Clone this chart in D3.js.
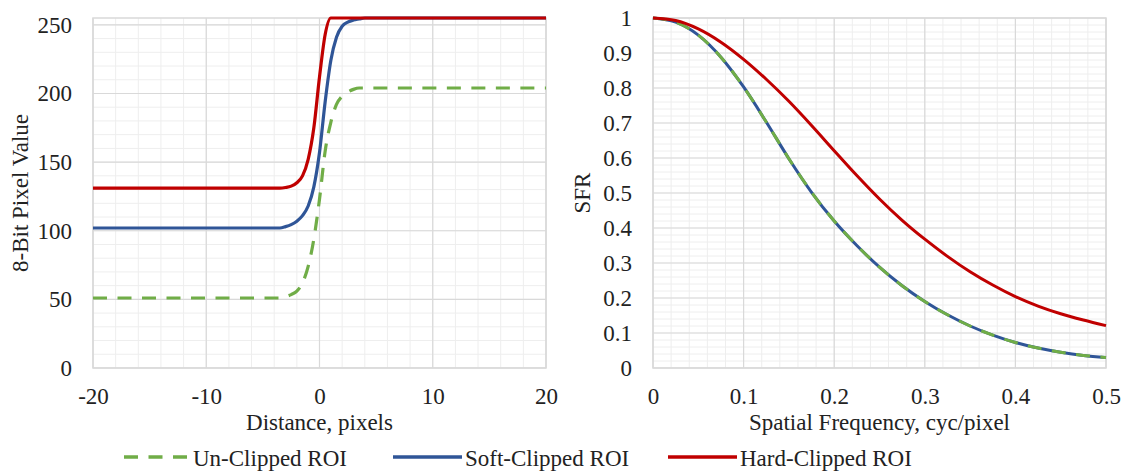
<html>
  <head>
    <script src="https://d3js.org/d3.v7.min.js"></script>
    <style>
      body { margin: 0; background: white; }
      text { font-family: "Liberation Serif", "Times New Roman", serif; fill: #222; }
    </style>
  </head>
  <body>
    <svg id="chart" width="1133" height="473"></svg>
    <script>
      // edge spread function (left panel)
      const esfDistance = [-20, -4, -3.5, -3, -2.5, -2, -1.5, -1, -0.5, 0, 0.5, 1, 1.5, 2, 2.5, 3, 3.5, 4, 5, 20];
      const esfUnclipped = [51, 51, 51, 52, 53.5, 56, 62, 74, 94, 123, 158, 179, 192, 198, 201, 203, 204, 204, 204, 204];
      const esfSoft = [102, 102, 102, 103, 104.5, 107, 111, 118, 132, 157, 194, 224, 241, 249, 252, 253.5, 254.3, 255, 255, 255];
      const esfHard = [131, 131, 131, 131.5, 132.5, 135, 140, 152, 175, 212, 243, 255, 255, 255, 255, 255, 255, 255, 255, 255];

      // spatial frequency response (right panel)
      const sfrFrequency = [0, 0.025, 0.05, 0.075, 0.1, 0.125, 0.15, 0.175, 0.2, 0.225, 0.25, 0.275, 0.3, 0.325, 0.35, 0.375, 0.4, 0.425, 0.45, 0.475, 0.5];
      const sfrUnclipped = [1, 0.988, 0.951, 0.888, 0.803, 0.703, 0.598, 0.502, 0.42, 0.35, 0.288, 0.235, 0.19, 0.152, 0.12, 0.094, 0.073, 0.057, 0.045, 0.036, 0.03];
      const sfrSoft = [1, 0.988, 0.951, 0.888, 0.803, 0.703, 0.598, 0.502, 0.42, 0.35, 0.288, 0.235, 0.19, 0.152, 0.12, 0.094, 0.073, 0.057, 0.045, 0.036, 0.03];
      const sfrHard = [1, 0.993, 0.969, 0.931, 0.882, 0.825, 0.762, 0.693, 0.621, 0.55, 0.483, 0.422, 0.368, 0.319, 0.275, 0.237, 0.204, 0.177, 0.155, 0.137, 0.121];

      const seriesNames = ["Un-Clipped ROI", "Soft-Clipped ROI", "Hard-Clipped ROI"];
      const seriesColors = ["#70ad47", "#2f5597", "#c00000"];

      const esfXTicks = [-20, -10, 0, 10, 20];
      const esfYTicks = [0, 50, 100, 150, 200, 250];
      const sfrXTicks = [0, 0.1, 0.2, 0.3, 0.4, 0.5];
      const sfrYTicks = [0, 0.1, 0.2, 0.3, 0.4, 0.5, 0.6, 0.7, 0.8, 0.9, 1];

      const svg = d3.select("#chart");
      const plotTop = 18, plotBottom = 368;
      const fontSize = 23;
      const dash = "14,10.5";

      const xl = d3.scaleLinear().domain([-20, 20]).range([93, 546]);
      const yl = d3.scaleLinear().domain([0, 255]).range([plotBottom, plotTop]);
      const xr = d3.scaleLinear().domain([0, 0.5]).range([653, 1106]);
      const yr = d3.scaleLinear().domain([0, 1]).range([plotBottom, plotTop]);

      function grid(x, y, minorX, minorY, majorX, majorY) {
        const g = svg.append("g");
        const [x0, x1] = x.range();
        const [y0, y1] = y.range();
        g.append("g").selectAll("line").data(minorX).join("line")
          .attr("x1", (d) => x(d)).attr("x2", (d) => x(d))
          .attr("y1", y0).attr("y2", y1)
          .attr("stroke", "#eeeeee").attr("stroke-width", 1);
        g.append("g").selectAll("line").data(minorY).join("line")
          .attr("x1", x0).attr("x2", x1)
          .attr("y1", (d) => y(d)).attr("y2", (d) => y(d))
          .attr("stroke", "#eeeeee").attr("stroke-width", 1);
        g.append("g").selectAll("line").data(majorX).join("line")
          .attr("x1", (d) => x(d)).attr("x2", (d) => x(d))
          .attr("y1", y0).attr("y2", y1)
          .attr("stroke", "#d9d9d9").attr("stroke-width", 1.2);
        g.append("g").selectAll("line").data(majorY).join("line")
          .attr("x1", x0).attr("x2", x1)
          .attr("y1", (d) => y(d)).attr("y2", (d) => y(d))
          .attr("stroke", "#d9d9d9").attr("stroke-width", 1.2);
        g.append("rect")
          .attr("x", x0).attr("y", y1)
          .attr("width", x1 - x0).attr("height", y0 - y1)
          .attr("fill", "none").attr("stroke", "#d9d9d9").attr("stroke-width", 1.5);
      }

      function axes(x, y, xt, yt) {
        const ax = svg.append("g")
          .attr("transform", "translate(0," + plotBottom + ")")
          .call(d3.axisBottom(x).tickValues(xt).tickSize(0).tickPadding(20).tickFormat((d) => String(d)));
        const ay = svg.append("g")
          .attr("transform", "translate(" + x.range()[0] + ",0)")
          .call(d3.axisLeft(y).tickValues(yt).tickSize(0).tickPadding(21).tickFormat((d) => String(d)));
        [ax, ay].forEach((a) => {
          a.select(".domain").remove();
          a.selectAll("text")
            .style("font-family", "Liberation Serif")
            .style("font-size", fontSize + "px")
            .attr("fill", "#222");
        });
      }

      function series(x, y, xs, ys, color, dashed, width) {
        const line = d3.line()
          .x((d, i) => x(xs[i]))
          .y((d) => y(d))
          .curve(d3.curveMonotoneX);
        svg.append("path")
          .datum(ys)
          .attr("d", line)
          .attr("fill", "none")
          .attr("stroke", color)
          .attr("stroke-width", width)
          .attr("stroke-dasharray", dashed ? dash : null);
      }

      // left panel: ESF
      grid(xl, yl, d3.range(-20, 20.01, 2), d3.range(0, 255, 10), esfXTicks, esfYTicks);
      axes(xl, yl, esfXTicks, esfYTicks);
      series(xl, yl, esfDistance, esfUnclipped, seriesColors[0], true, 3.2);
      series(xl, yl, esfDistance, esfSoft, seriesColors[1], false, 3.2);
      series(xl, yl, esfDistance, esfHard, seriesColors[2], false, 3.2);

      // right panel: SFR
      grid(xr, yr, d3.range(0, 0.501, 0.02), d3.range(0, 1.001, 0.02), sfrXTicks, sfrYTicks);
      axes(xr, yr, sfrXTicks, sfrYTicks);
      series(xr, yr, sfrFrequency, sfrSoft, seriesColors[1], false, 3);
      series(xr, yr, sfrFrequency, sfrUnclipped, seriesColors[0], true, 3);
      series(xr, yr, sfrFrequency, sfrHard, seriesColors[2], false, 3);

      // axis titles
      svg.append("text").attr("x", 319.5).attr("y", 430)
        .attr("text-anchor", "middle").attr("font-size", fontSize)
        .text("Distance, pixels");
      svg.append("text").attr("x", 879.5).attr("y", 430)
        .attr("text-anchor", "middle").attr("font-size", fontSize)
        .text("Spatial Frequency, cyc/pixel");
      svg.append("text")
        .attr("transform", "translate(28,193)rotate(-90)")
        .attr("text-anchor", "middle").attr("font-size", fontSize)
        .text("8-Bit Pixel Value");
      svg.append("text")
        .attr("transform", "translate(590,193)rotate(-90)")
        .attr("text-anchor", "middle").attr("font-size", fontSize)
        .text("SFR");

      // legend
      const legendX = [124, 393, 668];
      const legend = svg.selectAll("g.legend").data(seriesNames).join("g")
        .attr("class", "legend")
        .attr("transform", (d, i) => "translate(" + legendX[i] + ",457)");
      legend.append("line")
        .attr("x1", 0).attr("x2", (d, i) => (i === 0 ? 66 : 69))
        .attr("y1", 0).attr("y2", 0)
        .attr("stroke", (d, i) => seriesColors[i])
        .attr("stroke-width", 3.5)
        .attr("stroke-dasharray", (d, i) => (i === 0 ? dash : null));
      legend.append("text")
        .attr("x", (d, i) => (i === 0 ? 69 : 72))
        .attr("y", 9)
        .attr("font-size", fontSize)
        .text((d) => d);
    </script>
  </body>
</html>
